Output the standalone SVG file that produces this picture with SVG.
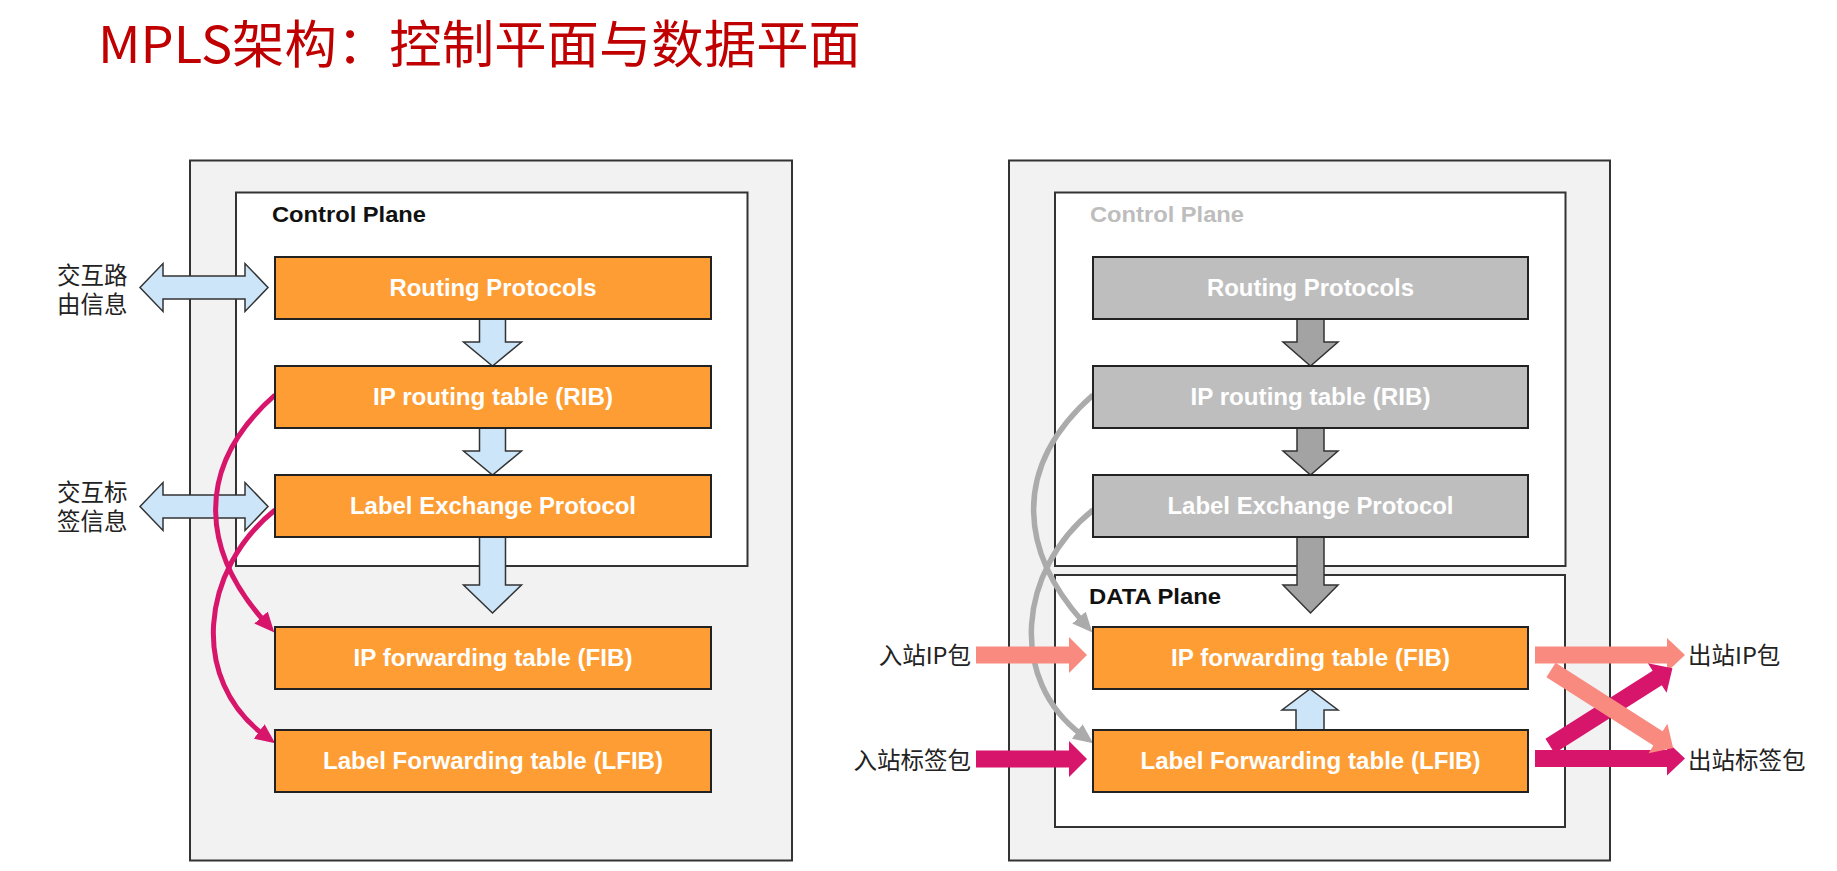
<svg xmlns="http://www.w3.org/2000/svg" width="1837" height="871" viewBox="0 0 1837 871">
<style>
.panel{fill:#f2f2f2;stroke:#333;stroke-width:2}
.plane{fill:#fff;stroke:#333;stroke-width:2}
.obox{fill:#FD9D33;stroke:#222;stroke-width:2}
.gbox{fill:#BEBEBE;stroke:#222;stroke-width:2}
.btxt{font-family:"Liberation Sans",Arial,sans-serif;font-weight:bold;font-size:23px;fill:#fff;text-anchor:middle}
.ptxt{font-family:"Liberation Sans",Arial,sans-serif;font-weight:bold;font-size:22px;fill:#111}
.cjk{font-family:"Noto Sans CJK SC",sans-serif;font-size:23.5px;fill:#222}
.blue{fill:#CDE5F8;stroke:#333;stroke-width:1.5;stroke-linejoin:miter}
.garr{fill:#A3A3A3;stroke:#333;stroke-width:1.5}
.mag{fill:none;stroke:#D6156B;stroke-width:5}
.gcurve{fill:none;stroke:#ABABAB;stroke-width:5.5}
.salmon{fill:#F98A7F}
.magf{fill:#D6156B}
</style>
<defs>
<marker id="mhead" markerUnits="userSpaceOnUse" markerWidth="20" markerHeight="18" refX="6" refY="9" orient="auto">
<path d="M0,0 L20,9 L0,18 z" fill="#D6156B"/>
</marker>
<marker id="ghead" markerUnits="userSpaceOnUse" markerWidth="20" markerHeight="18" refX="6" refY="9" orient="auto">
<path d="M0,0 L20,9 L0,18 z" fill="#ABABAB"/>
</marker>
</defs>
<rect width="1837" height="871" fill="#fff"/>
<text x="98" y="63" font-family="Noto Sans CJK SC, sans-serif" font-size="51" fill="#C00000" textLength="763" lengthAdjust="spacingAndGlyphs">MPLS架构：控制平面与数据平面</text>

<g id="left-router">
<rect class="panel" x="190" y="160.5" width="602" height="700"/>
</g>
<g id="left-control-plane">
<rect class="plane" x="236" y="192.5" width="511.5" height="373.5"/>
<text class="ptxt" x="272" y="222" textLength="154" lengthAdjust="spacingAndGlyphs">Control Plane</text>
</g>
<g id="right-router">
<rect class="panel" x="1009" y="160.5" width="601" height="700"/>
</g>
<g id="right-control-plane">
<rect class="plane" x="1055" y="192.5" width="510.5" height="373.5"/>
<text class="ptxt" x="1090" y="222" style="fill:#BDBDBD" textLength="154" lengthAdjust="spacingAndGlyphs">Control Plane</text>
</g>
<g id="right-data-plane">
<rect class="plane" x="1055" y="575" width="510" height="252"/>
<text class="ptxt" x="1089" y="604" textLength="132" lengthAdjust="spacingAndGlyphs">DATA Plane</text>
</g>

<g id="labels">
<text class="cjk" x="57" y="284">交互路<tspan x="57" dy="29">由信息</tspan></text>
<text class="cjk" x="57" y="501">交互标<tspan x="57" dy="29">签信息</tspan></text>
<text class="cjk" x="971" y="664" text-anchor="end">入站IP包</text>
<text class="cjk" x="971" y="769" text-anchor="end">入站标签包</text>
<text class="cjk" x="1688" y="664">出站IP包</text>
<text class="cjk" x="1688" y="769">出站标签包</text>
</g>

<g id="connectors">
<polygon class="blue" points="140,287.5 163,263.5 163,276 245,276 245,263.5 268,287.5 245,311.5 245,299 163,299 163,311.5"/>
<polygon class="blue" points="140,506.5 163,482.5 163,495 245,495 245,482.5 268,506.5 245,530.5 245,518 163,518 163,530.5"/>
<path class="mag" d="M275,395 C190,470 205,555 265,622" marker-end="url(#mhead)"/>
<path class="mag" d="M275,510 C200,570 190,680 264,735" marker-end="url(#mhead)"/>
<g transform="translate(818,0)">
<path class="gcurve" d="M275,395 C190,470 205,555 265,622" marker-end="url(#ghead)"/>
<path class="gcurve" d="M275,510 C200,570 190,680 264,735" marker-end="url(#ghead)"/>
</g>
<polygon class="blue" points="479.5,319 505.5,319 505.5,342 521.5,342 492.5,366 463.5,342 479.5,342"/>
<polygon class="blue" points="479.5,428 505.5,428 505.5,451 521.5,451 492.5,475 463.5,451 479.5,451"/>
<polygon class="blue" points="479.5,537 505.5,537 505.5,585 521.5,585 492.5,613 463.5,585 479.5,585"/>
<polygon class="garr" points="1297,319 1324,319 1324,342 1338,342 1310.5,366 1283,342 1297,342"/>
<polygon class="garr" points="1297,428 1324,428 1324,451 1338,451 1310.5,475 1283,451 1297,451"/>
<polygon class="garr" points="1297,537 1324,537 1324,585 1338,585 1310.5,613 1283,585 1297,585"/>
<polygon class="blue" points="1296,730 1324,730 1324,710 1338,710 1310,689 1282,710 1296,710"/>
<polygon class="salmon" points="976,646.5 1069,646.5 1069,637 1087,655 1069,673 1069,663.5 976,663.5"/>
<polygon class="magf" points="976,750.5 1069,750.5 1069,741 1087,759 1069,777 1069,767.5 976,767.5"/>
<polygon class="magf" points="1535,750 1667,750 1667,741.5 1685,758.5 1667,775.5 1667,767 1535,767"/>
<polygon class="salmon" points="1535,646.5 1667,646.5 1667,638 1685,655 1667,672 1667,663.5 1535,663.5"/>
<polygon class="magf" transform="translate(1550,746) rotate(-32.4)" points="0,-8.5 127,-8.5 127,-17.5 145,0 127,17.5 127,8.5 0,8.5"/>
<polygon class="salmon" transform="translate(1551,670) rotate(32.6)" points="0,-8.5 127,-8.5 127,-17.5 145,0 127,17.5 127,8.5 0,8.5"/>
</g>

<g id="l-routing-protocols"><rect class="obox" x="275" y="257" width="436" height="62"/><text class="btxt" x="493" y="296" textLength="207" lengthAdjust="spacingAndGlyphs">Routing Protocols</text></g>
<g id="l-rib"><rect class="obox" x="275" y="366" width="436" height="62"/><text class="btxt" x="493" y="405" textLength="240" lengthAdjust="spacingAndGlyphs">IP routing table (RIB)</text></g>
<g id="l-ldp"><rect class="obox" x="275" y="475" width="436" height="62"/><text class="btxt" x="493" y="514" textLength="286" lengthAdjust="spacingAndGlyphs">Label Exchange Protocol</text></g>
<g id="l-fib"><rect class="obox" x="275" y="627" width="436" height="62"/><text class="btxt" x="493" y="666" textLength="279" lengthAdjust="spacingAndGlyphs">IP forwarding table (FIB)</text></g>
<g id="l-lfib"><rect class="obox" x="275" y="730" width="436" height="62"/><text class="btxt" x="493" y="769" textLength="340" lengthAdjust="spacingAndGlyphs">Label Forwarding table (LFIB)</text></g>

<g id="r-routing-protocols"><rect class="gbox" x="1093" y="257" width="435" height="62"/><text class="btxt" x="1310.5" y="296" textLength="207" lengthAdjust="spacingAndGlyphs">Routing Protocols</text></g>
<g id="r-rib"><rect class="gbox" x="1093" y="366" width="435" height="62"/><text class="btxt" x="1310.5" y="405" textLength="240" lengthAdjust="spacingAndGlyphs">IP routing table (RIB)</text></g>
<g id="r-ldp"><rect class="gbox" x="1093" y="475" width="435" height="62"/><text class="btxt" x="1310.5" y="514" textLength="286" lengthAdjust="spacingAndGlyphs">Label Exchange Protocol</text></g>
<g id="r-fib"><rect class="obox" x="1093" y="627" width="435" height="62"/><text class="btxt" x="1310.5" y="666" textLength="279" lengthAdjust="spacingAndGlyphs">IP forwarding table (FIB)</text></g>
<g id="r-lfib"><rect class="obox" x="1093" y="730" width="435" height="62"/><text class="btxt" x="1310.5" y="769" textLength="340" lengthAdjust="spacingAndGlyphs">Label Forwarding table (LFIB)</text></g>
</svg>
